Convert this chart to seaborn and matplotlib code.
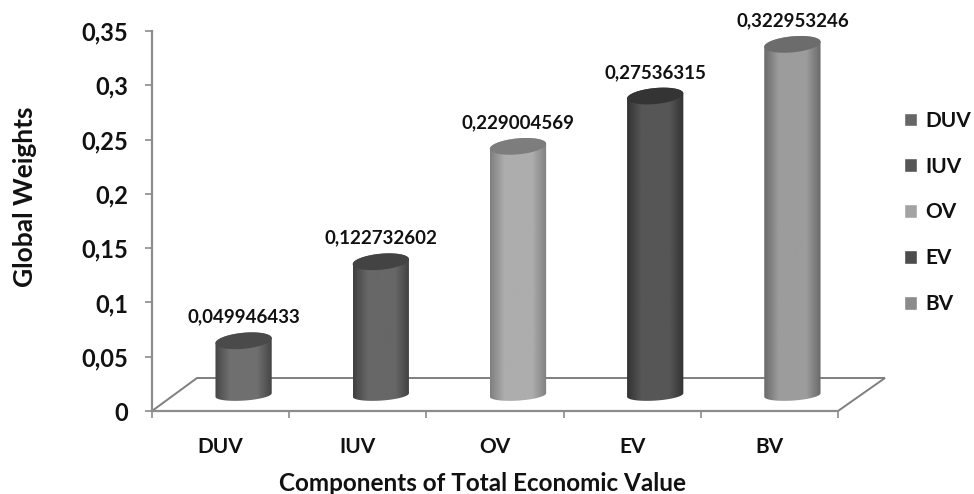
import numpy as np
import pandas as pd
import seaborn as sns
import matplotlib
matplotlib.use("Agg")
import matplotlib.pyplot as plt
from matplotlib.path import Path
from matplotlib.patches import PathPatch, Polygon
from matplotlib.colors import LinearSegmentedColormap
from matplotlib.transforms import ScaledTranslation

# Data
components = ["DUV", "IUV", "OV", "EV", "BV"]
global_weights = [0.049946433, 0.122732602, 0.229004569, 0.27536315, 0.322953246]
y_ticks = [0, 0.05, 0.1, 0.15, 0.2, 0.25, 0.3, 0.35]
y_tick_labels = ["0", "0,05", "0,1", "0,15", "0,2", "0,25", "0,3", "0,35"]

# Colours: legend square, dark edge, light centre, top cap
legend_colors = ["#666666", "#565656", "#a3a3a3", "#4c4c4c", "#8b8b8b"]
edge_colors = ["#464646", "#404040", "#808080", "#333333", "#6a6a6a"]
mid_colors = ["#6f6f6f", "#676767", "#adadad", "#565656", "#9c9c9c"]
cap_colors = ["#4a4a4a", "#434343", "#7d7d7d", "#343434", "#6c6c6c"]

df = pd.DataFrame({"component": components, "weight": global_weights})

sns.set_theme(style="white")
plt.rcParams["font.family"] = ["Lato", "DejaVu Sans"]
plt.rcParams["font.weight"] = "bold"

fig = plt.figure(figsize=(9.74, 4.94), dpi=100)
ax = fig.add_axes([152 / 974, 1 - 411 / 494, 686 / 974, 380 / 494])

sns.barplot(data=df, x="component", y="weight", hue="component", order=components,
            hue_order=components, palette=legend_colors, width=0.41, dodge=False,
            legend=True, ax=ax)
ax.set_xlim(-0.5, 4.5)
ax.set_ylim(0, 0.35)

# pseudo 3D: bars stand on a floor shifted back and right of the axis
px = 1 / 100
shift = ax.transData + ScaledTranslation(23 * px, 16 * px, fig.dpi_scale_trans)
unit_x = 1 / 137.2          # data units per pixel
unit_y = 0.35 / 380
cap_h = 8 * unit_y
tilt = 5 * unit_y           # ellipses lean up to the right

# floor
floor = Polygon([(-0.5, 0), (-0.5 + 45 * unit_x, 33 * unit_y),
                 (4.5 + 47 * unit_x, 33 * unit_y), (4.5, 0)],
                closed=True, fill=False, edgecolor="#7f7f7f", lw=1.4,
                clip_on=False, zorder=1)
ax.add_patch(floor)

theta = np.linspace(0, np.pi, 40)
for bar, value, c_edge, c_mid, c_cap in zip(ax.patches, global_weights, edge_colors, mid_colors, cap_colors):
    x0 = bar.get_x()
    w = bar.get_width()
    cx = x0 + w / 2
    bar.set_visible(False)

    ex = cx + np.cos(theta) * w / 2
    lean = np.cos(theta) * tilt / 2
    low = -np.sin(theta) * cap_h + lean
    high = np.sin(theta) * cap_h + lean

    # outline of the cylinder, base flatter than the cap
    verts = np.vstack([np.column_stack([ex[::-1], 0.7 * low[::-1]]),
                       np.column_stack([ex, value + high])])
    outline = PathPatch(Path(np.vstack([verts, verts[0]])), transform=shift,
                        facecolor="none", edgecolor="none", zorder=3)
    ax.add_patch(outline)

    cmap = LinearSegmentedColormap.from_list("cyl", [c_edge, c_mid, c_mid, c_mid, c_edge])
    im = ax.imshow(np.linspace(0, 1, 64).reshape(1, -1), cmap=cmap, aspect="auto",
                   extent=[x0, x0 + w, -cap_h * 2, value + cap_h * 2],
                   transform=shift, zorder=3)
    im.set_clip_path(outline)

    # top cap
    cap = np.vstack([np.column_stack([ex, value + high]),
                     np.column_stack([ex[::-1], value + low[::-1]])])
    ax.add_patch(Polygon(cap, closed=True, transform=shift, facecolor=c_cap,
                         edgecolor="none", zorder=4, clip_on=False))

    ax.annotate(str(value).replace(".", ","), xy=(cx, value), xycoords=shift,
                xytext=(0, 17), textcoords="offset points", ha="center", va="center",
                fontsize=13.5, fontweight="bold", color="#111111",
                annotation_clip=False, zorder=5)

ax.set_xlim(-0.5, 4.5)
ax.set_ylim(0, 0.35)

# axes
sns.despine(ax=ax, top=True, right=True)
for side in ["left", "bottom"]:
    ax.spines[side].set_color("#8c8c8c")
    ax.spines[side].set_linewidth(1.6)
ax.set_yticks(y_ticks)
ax.set_yticklabels(y_tick_labels)
ax.set_xticks(np.arange(-0.5, 5))
ax.set_xticklabels([])
ax.set_xticks(np.arange(5), labels=components, minor=True)
ax.tick_params(axis="x", which="major", length=5, width=1.2, color="#8c8c8c", bottom=True)
ax.tick_params(axis="x", which="minor", length=0, labelsize=15, pad=18.5, labelcolor="#111111")
ax.tick_params(axis="y", length=5, width=1.2, color="#8c8c8c", left=True, labelsize=17,
               pad=12, labelcolor="#111111")

ax.set_xlabel("Components of Total Economic Value", fontsize=17.5, fontweight="bold", color="#111111")
ax.xaxis.set_label_coords(0.4825, -0.161)
ax.set_ylabel("Global Weights", fontsize=19, fontweight="bold", color="#111111")
ax.yaxis.set_label_coords(-0.167, 0.563)

# legend
leg = ax.legend(loc="upper left", bbox_to_anchor=(1.096, 0.79), frameon=False, title=None,
                handlelength=0.65, handleheight=0.65, handletextpad=0.38,
                labelspacing=1.24, borderaxespad=0, borderpad=0,
                prop={"size": 15, "weight": "bold"})
for text in leg.get_texts():
    text.set_color("#111111")

fig.savefig("out.png", dpi=100)
